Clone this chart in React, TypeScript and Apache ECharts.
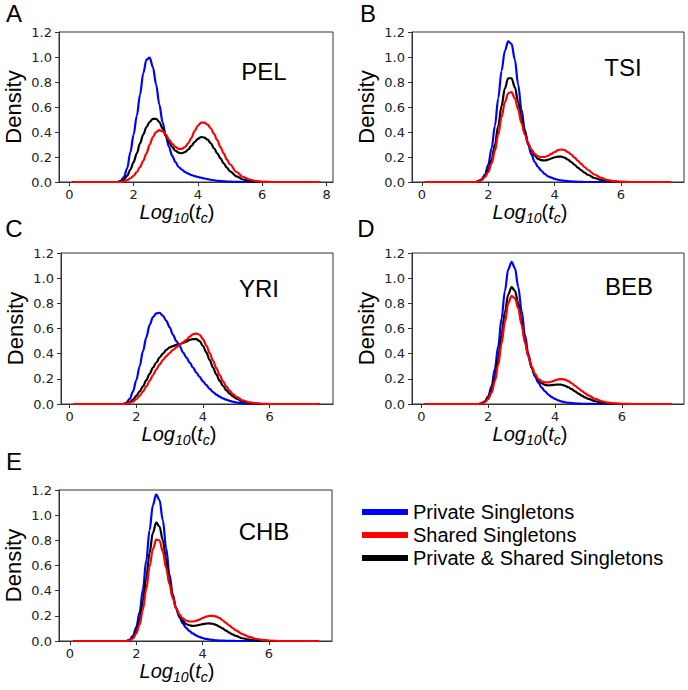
import React, { useEffect, useRef } from "react";
import * as echarts from "echarts";

// x positions (Log10(tc)) at which the density curves were read
const X_SAMPLES = [0.1, 1.0, 1.5, 1.6, 1.7, 1.8, 1.9, 2.0, 2.1, 2.2, 2.3, 2.4, 2.5, 2.6, 2.7, 2.8, 2.9, 3.0, 3.1, 3.2, 3.3, 3.4, 3.5, 3.6, 3.7, 3.8, 3.9, 4.0, 4.1, 4.2, 4.3, 4.4, 4.5, 4.6, 4.7, 4.8, 4.9, 5.0, 5.2, 5.4, 5.6, 5.8, 6.0, 6.4, 7.0];
const X_END = [7.8, 7.5, 7.5, 7.5, 7.5];

const POPULATIONS = ["PEL", "TSI", "YRI", "BEB", "CHB"];
const PANEL_LETTERS = ["A", "B", "C", "D", "E"];
const SERIES_NAMES = ["Private Singletons", "Shared Singletons", "Private & Shared Singletons"];

const PEL_PRIVATE = [0, 0, 0, 0.01, 0.04, 0.11, 0.24, 0.38, 0.53, 0.70, 0.87, 0.98, 0.995, 0.92, 0.78, 0.62, 0.48, 0.37, 0.28, 0.21, 0.16, 0.12, 0.10, 0.08, 0.067, 0.055, 0.047, 0.04, 0.034, 0.028, 0.023, 0.018, 0.014, 0.01, 0.008, 0.006, 0.004, 0.003, 0.001, 0, 0, 0, 0, 0, 0, 0];
const PEL_SHARED = [0, 0, 0, 0, 0.005, 0.015, 0.03, 0.05, 0.08, 0.12, 0.17, 0.23, 0.30, 0.36, 0.40, 0.415, 0.405, 0.38, 0.34, 0.305, 0.28, 0.265, 0.265, 0.28, 0.31, 0.355, 0.41, 0.45, 0.475, 0.475, 0.46, 0.43, 0.385, 0.335, 0.28, 0.23, 0.18, 0.14, 0.08, 0.04, 0.02, 0.008, 0.003, 0, 0, 0];
const PEL_ALL = [0, 0, 0, 0.005, 0.02, 0.05, 0.10, 0.16, 0.23, 0.31, 0.38, 0.44, 0.48, 0.505, 0.505, 0.48, 0.43, 0.37, 0.32, 0.28, 0.25, 0.235, 0.23, 0.24, 0.26, 0.29, 0.32, 0.345, 0.36, 0.355, 0.34, 0.31, 0.27, 0.23, 0.19, 0.15, 0.115, 0.085, 0.045, 0.02, 0.008, 0.003, 0, 0, 0, 0];

const TSI_PRIVATE = [0, 0, 0, 0, 0.005, 0.02, 0.06, 0.14, 0.27, 0.45, 0.67, 0.89, 1.05, 1.125, 1.105, 0.98, 0.78, 0.58, 0.42, 0.30, 0.22, 0.16, 0.12, 0.09, 0.065, 0.045, 0.035, 0.025, 0.018, 0.013, 0.01, 0.007, 0.005, 0.003, 0.002, 0.001, 0, 0, 0, 0, 0, 0, 0, 0, 0, 0];
const TSI_SHARED = [0, 0, 0, 0, 0.003, 0.015, 0.04, 0.08, 0.15, 0.25, 0.38, 0.52, 0.64, 0.71, 0.72, 0.67, 0.58, 0.47, 0.38, 0.31, 0.26, 0.225, 0.205, 0.20, 0.20, 0.21, 0.225, 0.24, 0.255, 0.26, 0.255, 0.24, 0.22, 0.195, 0.17, 0.145, 0.12, 0.098, 0.06, 0.033, 0.016, 0.007, 0.003, 0, 0, 0];
const TSI_ALL = [0, 0, 0, 0, 0.005, 0.02, 0.05, 0.10, 0.18, 0.30, 0.45, 0.61, 0.75, 0.83, 0.83, 0.76, 0.64, 0.51, 0.40, 0.31, 0.25, 0.21, 0.185, 0.175, 0.172, 0.178, 0.188, 0.198, 0.203, 0.203, 0.195, 0.18, 0.16, 0.138, 0.115, 0.095, 0.075, 0.058, 0.032, 0.016, 0.007, 0.003, 0, 0, 0, 0];

const YRI_PRIVATE = [0, 0, 0, 0, 0.01, 0.04, 0.10, 0.19, 0.30, 0.42, 0.53, 0.63, 0.69, 0.72, 0.725, 0.70, 0.66, 0.61, 0.55, 0.50, 0.46, 0.41, 0.37, 0.33, 0.29, 0.25, 0.215, 0.18, 0.15, 0.12, 0.095, 0.075, 0.058, 0.045, 0.034, 0.025, 0.018, 0.012, 0.005, 0.002, 0, 0, 0, 0, 0, 0];
const YRI_SHARED = [0, 0, 0, 0, 0.003, 0.01, 0.02, 0.04, 0.065, 0.10, 0.14, 0.185, 0.23, 0.275, 0.315, 0.35, 0.38, 0.405, 0.43, 0.45, 0.47, 0.49, 0.51, 0.535, 0.555, 0.56, 0.55, 0.515, 0.465, 0.405, 0.345, 0.285, 0.23, 0.18, 0.14, 0.105, 0.078, 0.057, 0.028, 0.013, 0.006, 0.002, 0, 0, 0, 0];
const YRI_ALL = [0, 0, 0, 0, 0.005, 0.015, 0.035, 0.065, 0.10, 0.14, 0.19, 0.24, 0.29, 0.33, 0.37, 0.40, 0.43, 0.45, 0.46, 0.47, 0.475, 0.485, 0.495, 0.51, 0.515, 0.515, 0.50, 0.46, 0.41, 0.35, 0.29, 0.235, 0.185, 0.145, 0.11, 0.082, 0.06, 0.043, 0.02, 0.009, 0.003, 0, 0, 0, 0, 0];

const BEB_PRIVATE = [0, 0, 0, 0, 0, 0.005, 0.02, 0.06, 0.14, 0.28, 0.46, 0.68, 0.90, 1.07, 1.13, 1.08, 0.93, 0.74, 0.55, 0.40, 0.29, 0.22, 0.17, 0.13, 0.10, 0.075, 0.055, 0.04, 0.029, 0.02, 0.014, 0.01, 0.007, 0.005, 0.003, 0.002, 0.001, 0.001, 0, 0, 0, 0, 0, 0, 0, 0];
const BEB_SHARED = [0, 0, 0, 0, 0, 0.004, 0.015, 0.04, 0.09, 0.18, 0.31, 0.48, 0.65, 0.80, 0.86, 0.84, 0.76, 0.63, 0.49, 0.38, 0.30, 0.24, 0.20, 0.18, 0.172, 0.172, 0.178, 0.188, 0.196, 0.198, 0.193, 0.182, 0.165, 0.145, 0.124, 0.104, 0.085, 0.068, 0.04, 0.022, 0.011, 0.005, 0.002, 0, 0, 0];
const BEB_ALL = [0, 0, 0, 0, 0, 0.005, 0.02, 0.05, 0.11, 0.22, 0.37, 0.55, 0.73, 0.87, 0.93, 0.90, 0.80, 0.65, 0.50, 0.38, 0.29, 0.23, 0.19, 0.165, 0.152, 0.148, 0.15, 0.153, 0.155, 0.153, 0.145, 0.133, 0.118, 0.10, 0.083, 0.066, 0.052, 0.04, 0.022, 0.011, 0.005, 0.002, 0, 0, 0, 0];

const CHB_PRIVATE = [0, 0, 0, 0, 0, 0.01, 0.04, 0.11, 0.23, 0.41, 0.64, 0.88, 1.08, 1.165, 1.12, 0.96, 0.74, 0.53, 0.37, 0.26, 0.19, 0.14, 0.105, 0.08, 0.06, 0.045, 0.033, 0.024, 0.017, 0.012, 0.009, 0.006, 0.004, 0.003, 0.002, 0.001, 0.001, 0, 0, 0, 0, 0, 0, 0, 0, 0];
const CHB_SHARED = [0, 0, 0, 0, 0, 0.005, 0.02, 0.06, 0.13, 0.25, 0.41, 0.59, 0.73, 0.805, 0.80, 0.71, 0.58, 0.45, 0.34, 0.26, 0.21, 0.18, 0.163, 0.155, 0.155, 0.16, 0.17, 0.182, 0.193, 0.20, 0.20, 0.195, 0.183, 0.165, 0.145, 0.124, 0.104, 0.085, 0.055, 0.033, 0.018, 0.009, 0.004, 0, 0, 0];
const CHB_ALL = [0, 0, 0, 0, 0, 0.008, 0.03, 0.08, 0.17, 0.32, 0.50, 0.70, 0.86, 0.94, 0.91, 0.80, 0.64, 0.48, 0.35, 0.26, 0.20, 0.16, 0.135, 0.125, 0.12, 0.122, 0.128, 0.134, 0.138, 0.14, 0.137, 0.128, 0.115, 0.10, 0.083, 0.067, 0.052, 0.04, 0.022, 0.011, 0.005, 0.002, 0, 0, 0, 0];

const PANEL_DATA = [
  [PEL_PRIVATE, PEL_SHARED, PEL_ALL],
  [TSI_PRIVATE, TSI_SHARED, TSI_ALL],
  [YRI_PRIVATE, YRI_SHARED, YRI_ALL],
  [BEB_PRIVATE, BEB_SHARED, BEB_ALL],
  [CHB_PRIVATE, CHB_SHARED, CHB_ALL],
];

const X_TICKS = [
  [0, 2, 4, 6, 8],
  [0, 2, 4, 6],
  [0, 2, 4, 6],
  [0, 2, 4, 6],
  [0, 2, 4, 6],
];
const Y_MIN = 0;
const Y_MAX = 1.2;
const Y_STEP = 0.2;

// layout (pixels) and styles
const LAYOUT = [
  { left: 59, top: 32, width: 274, height: 150, xMin: -0.32, xMax: 8.2, letter: [14, 13], name: [264, 71] },
  { left: 412, top: 32, width: 272, height: 150, xMin: -0.3, xMax: 7.9, letter: [368, 13], name: [623, 67] },
  { left: 61, top: 253, width: 272, height: 151, xMin: -0.26, xMax: 7.9, letter: [14, 228], name: [259, 288] },
  { left: 412, top: 253, width: 272, height: 151, xMin: -0.28, xMax: 7.86, letter: [366, 228], name: [629, 286] },
  { left: 59, top: 490, width: 273, height: 151, xMin: -0.33, xMax: 7.9, letter: [14, 461], name: [264, 531] },
];
const COLORS = ["#0000ff", "#ff0000", "#000000"];
const DRAW_ORDER = [0, 2, 1];
const FRAME = "#333333";
const SANS = '"Liberation Sans", Arial, sans-serif';
const TICK_FONT = '"DejaVu Sans", sans-serif';

function buildOption() {
  const grid: any[] = [];
  const xAxis: any[] = [];
  const yAxis: any[] = [];
  const series: any[] = [];
  const graphic: any[] = [];

  LAYOUT.forEach((p, i) => {
    grid.push({
      left: p.left, top: p.top, width: p.width, height: p.height,
      show: true, borderColor: FRAME, borderWidth: 1, backgroundColor: "transparent",
    });
    xAxis.push({
      type: "value", gridIndex: i, min: p.xMin, max: p.xMax,
      axisLine: { show: true, onZero: false, lineStyle: { color: FRAME, width: 1 } },
      axisTick: { show: true, inside: false, length: 4, lineStyle: { color: FRAME }, customValues: X_TICKS[i] },
      axisLabel: { customValues: X_TICKS[i], margin: 6, fontSize: 13, fontFamily: TICK_FONT, color: "#222", formatter: (v: number) => String(v) },
      splitLine: { show: false },
    });
    yAxis.push({
      type: "value", gridIndex: i, min: Y_MIN, max: Y_MAX, interval: Y_STEP,
      axisLine: { show: true, onZero: false, lineStyle: { color: FRAME, width: 1 } },
      axisTick: { show: true, inside: false, length: 4, lineStyle: { color: FRAME } },
      axisLabel: { margin: 7, fontSize: 13, fontFamily: TICK_FONT, color: "#222", formatter: (v: number) => v.toFixed(1) },
      splitLine: { show: false },
    });
    const xs = X_SAMPLES.concat([X_END[i]]);
    DRAW_ORDER.forEach((k, z) => {
      const ys = PANEL_DATA[i][k];
      series.push({
        type: "line", name: SERIES_NAMES[k], xAxisIndex: i, yAxisIndex: i,
        data: xs.map((x, j) => [x, ys[j]]),
        showSymbol: false, symbol: "none", smooth: 0.35, smoothMonotone: "x",
        lineStyle: { color: COLORS[k], width: 2.2 }, itemStyle: { color: COLORS[k] },
        z: 2 + z, clip: true,
      });
    });

    graphic.push({
      type: "text", x: p.letter[0], y: p.letter[1],
      style: { text: PANEL_LETTERS[i], fontSize: 24, fontFamily: SANS, fill: "#000", align: "center", verticalAlign: "middle" },
    });
    graphic.push({
      type: "text", x: p.name[0], y: p.name[1],
      style: { text: POPULATIONS[i], fontSize: 24, fontFamily: SANS, fill: "#000", align: "center", verticalAlign: "middle" },
    });
    graphic.push({
      type: "text", x: p.left - 46, y: p.top + p.height / 2, rotation: Math.PI / 2,
      style: { text: "Density", fontSize: 22, fontFamily: SANS, fill: "#000", align: "center", verticalAlign: "middle" },
    });
    graphic.push({
      type: "text", x: p.left + 118, y: p.top + p.height + 30,
      style: {
        text: "{i|Log}{s|10}{p|(}{i|t}{s|c}{p|)}",
        align: "center", verticalAlign: "middle",
        rich: {
          i: { fontSize: 20, fontStyle: "italic", fontFamily: SANS, fill: "#000", lineHeight: 26, verticalAlign: "middle" },
          p: { fontSize: 20, fontFamily: SANS, fill: "#000", lineHeight: 26, verticalAlign: "middle" },
          s: { fontSize: 14, fontStyle: "italic", fontFamily: SANS, fill: "#000", lineHeight: 14, verticalAlign: "bottom" },
        },
      },
    });
  });

  return {
    animation: false,
    backgroundColor: "#ffffff",
    grid, xAxis, yAxis, series, graphic,
    legend: {
      show: true, orient: "vertical", left: 357, top: 496,
      data: SERIES_NAMES.map((n) => ({ name: n, icon: "rect" })),
      itemWidth: 46, itemHeight: 6, itemGap: 1, selectedMode: false,
      textStyle: { fontSize: 20, fontFamily: SANS, color: "#000", lineHeight: 22 },
    },
  };
}

export default function App() {
  const ref = useRef<HTMLDivElement>(null);
  useEffect(() => {
    if (!ref.current) return;
    const chart = echarts.init(ref.current, undefined, { renderer: "svg" });
    chart.setOption(buildOption() as any);
    return () => chart.dispose();
  }, []);
  return (
    <div
      ref={ref}
      style={{ position: "absolute", left: 0, top: 0, width: 688, height: 690, background: "#fff" }}
    />
  );
}
